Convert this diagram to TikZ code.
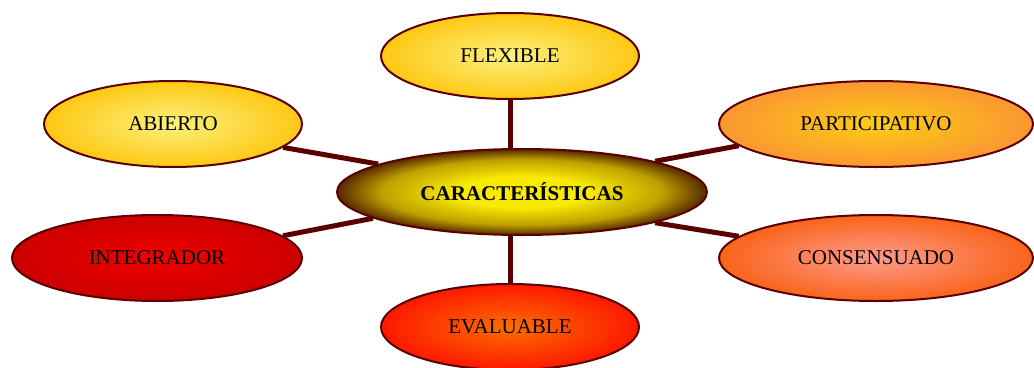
\documentclass[tikz,border=0pt]{standalone}
\usepackage{fontspec}
\setmainfont{Liberation Serif}
\usetikzlibrary{shapes.geometric,backgrounds}
\definecolor{linkred}{RGB}{90,0,0}
\definecolor{carin}{RGB}{248,235,0}
\definecolor{carmid}{RGB}{190,160,0}
\definecolor{carout}{RGB}{85,40,0}
\pgfdeclareradialshading{carshade}{\pgfpoint{0bp}{0bp}}{color(0bp)=(carin);
  color(9bp)=(carin); color(19bp)=(carmid); color(25bp)=(carout); color(50bp)=(carout)}
\begin{document}
\begin{tikzpicture}[x=1pt,y=-1pt,
    idea/.style={ellipse,draw=linkred,line width=2pt,inner sep=0pt,
      minimum width=258pt,minimum height=86pt,font=\fontsize{21}{25}\selectfont},
    link/.style={draw=linkred,line width=5pt}]
  \useasboundingbox (0,0) rectangle (1034,367);
  % centre
  \node[idea,minimum width=370pt,shading=carshade,
    font=\fontsize{21}{25}\selectfont\bfseries] (car) at (522,192) {CARACTERÍSTICAS};
  % around it
  \node[idea,inner color={rgb,255:red,252;green,240;blue,125},
    outer color={rgb,255:red,253;green,200;blue,20}] (flex) at (510,56) {FLEXIBLE};
  \node[idea,inner color={rgb,255:red,252;green,240;blue,125},
    outer color={rgb,255:red,253;green,200;blue,20}] (abierto) at (173,124) {ABIERTO};
  \node[idea,minimum width=314pt,inner color={rgb,255:red,253;green,205;blue,20},
    outer color={rgb,255:red,250;green,150;blue,50}] (part) at (876,124) {PARTICIPATIVO};
  \node[idea,minimum width=290pt,inner color={rgb,255:red,238;green,0;blue,0},
    outer color={rgb,255:red,205;green,0;blue,0}] (integ) at (157,258) {INTEGRADOR};
  \node[idea,minimum width=314pt,inner color={rgb,255:red,253;green,155;blue,140},
    outer color={rgb,255:red,250;green,100;blue,25}] (cons) at (876,258) {CONSENSUADO};
  \node[idea,inner color={rgb,255:red,253;green,110;blue,0},
    outer color={rgb,255:red,253;green,25;blue,0}] (eval) at (510,327) {EVALUABLE};
  \begin{scope}[on background layer]
    \draw[link] (flex.south) -- (flex.south |- car.north);
    \draw[link] (eval.north) -- (eval.north |- car.south);
    \draw[link] (abierto.-12) -- (car.169);
    \draw[link] (car.13) -- (part.189);
    \draw[link] (car.-13) -- (cons.171);
    \draw[link] (car.190) -- (integ.10);
  \end{scope}
\end{tikzpicture}
\end{document}
